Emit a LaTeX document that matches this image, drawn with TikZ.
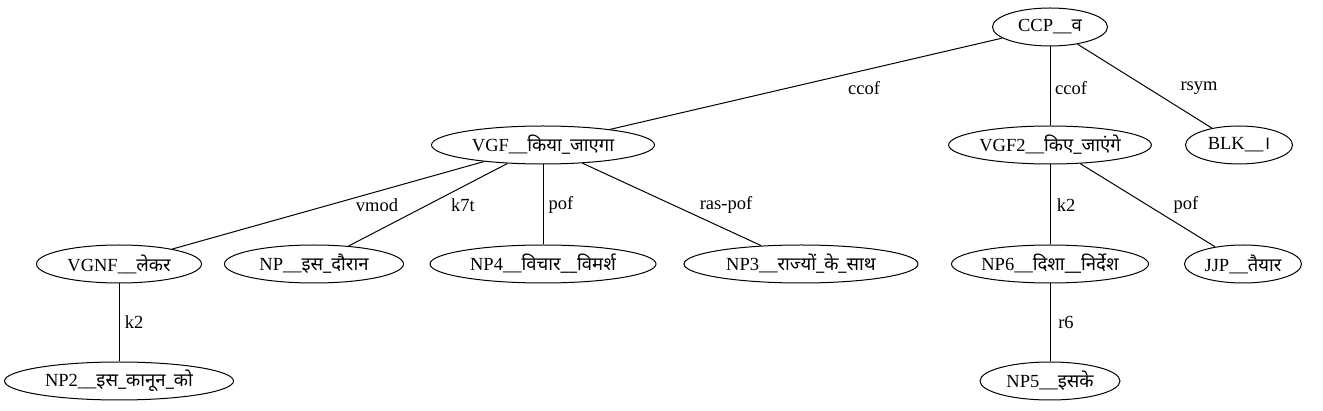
\documentclass[tikz,border=0pt]{standalone}
\usepackage{fontspec}
\setmainfont{Liberation Serif}
\newfontfamily\deva[Script=Devanagari,Scale=1.0]{Noto Sans}
\usetikzlibrary{shapes.geometric}
\newcommand{\hin}[1]{{\deva #1}}
\tikzset{
  chunk/.style={draw=black, line width=1pt, ellipse, minimum height=38pt,
                inner xsep=1pt, inner ysep=0pt, font=\fontsize{18.5}{21}\selectfont},
  rel/.style={font=\fontsize{18.5}{21}\selectfont, inner sep=1pt},
  dep/.style={draw=black, line width=1pt},
}
\begin{document}
\begin{tikzpicture}[x=1pt, y=-1pt]
\useasboundingbox (0,0) rectangle (1323,411);
% chunk nodes
\node[chunk, minimum width=115pt] (ccp) at (1050,27) {CCP\_\_\hin{व}};
\node[chunk, minimum width=223pt] (vgf) at (543,145) {VGF\_\_\hin{किया\_जाएगा}};
\node[chunk, minimum width=168pt] (vgf2) at (1050,145) {VGF2\_\_\hin{किए\_जाएंगे}};
\node[chunk, minimum width=107pt] (blk) at (1239,145) {BLK\_\_\hin{।}};
\node[chunk, minimum width=165pt] (vgnf) at (119,264) {VGNF\_\_\hin{लेकर}};
\node[chunk, minimum width=179pt] (np) at (314,264) {NP\_\_\hin{इस\_दौरान}};
\node[chunk, minimum width=226pt] (np4) at (543,264) {NP4\_\_\hin{विचार\_\_विमर्श}};
\node[chunk, minimum width=234pt] (np3) at (801,264) {NP3\_\_\hin{राज्यों\_के\_साथ}};
\node[chunk, minimum width=165pt] (np6) at (1050,264) {NP6\_\_\hin{दिशा\_\_निर्देश}};
\node[chunk, minimum width=117pt] (jjp) at (1243,264) {JJP\_\_\hin{तैयार}};
\node[chunk, minimum width=229pt] (np2) at (119,381) {NP2\_\_\hin{इस\_कानून\_को}};
\node[chunk, minimum width=140pt] (np5) at (1050,381) {NP5\_\_\hin{इसके}};
% dependency arcs
\draw[dep] (ccp) -- (vgf);
\draw[dep] (ccp) -- (vgf2);
\draw[dep] (ccp) -- (blk);
\draw[dep] (vgf) -- (vgnf);
\draw[dep] (vgf) -- (np);
\draw[dep] (vgf) -- (np4);
\draw[dep] (vgf) -- (np3);
\draw[dep] (vgf2) -- (np6);
\draw[dep] (vgf2) -- (jjp);
\draw[dep] (vgnf) -- (np2);
\draw[dep] (np6) -- (np5);
% arc labels
\node[rel] (l1) at (864,88) {ccof};
\node[rel] (l2) at (1071,88) {ccof};
\node[rel] (l3) at (1199,88) {rsym};
\node[rel] (l4) at (377,205) {vmod};
\node[rel] (l5) at (463,205) {k7t};
\node[rel] (l6) at (561,205) {pof};
\node[rel] (l7) at (726,205) {ras-pof};
\node[rel] (l8) at (1066,205) {k2};
\node[rel] (l9) at (1186,205) {pof};
\node[rel] (l10) at (134,322) {k2};
\node[rel] (l11) at (1066,322) {r6};
\end{tikzpicture}
\end{document}
